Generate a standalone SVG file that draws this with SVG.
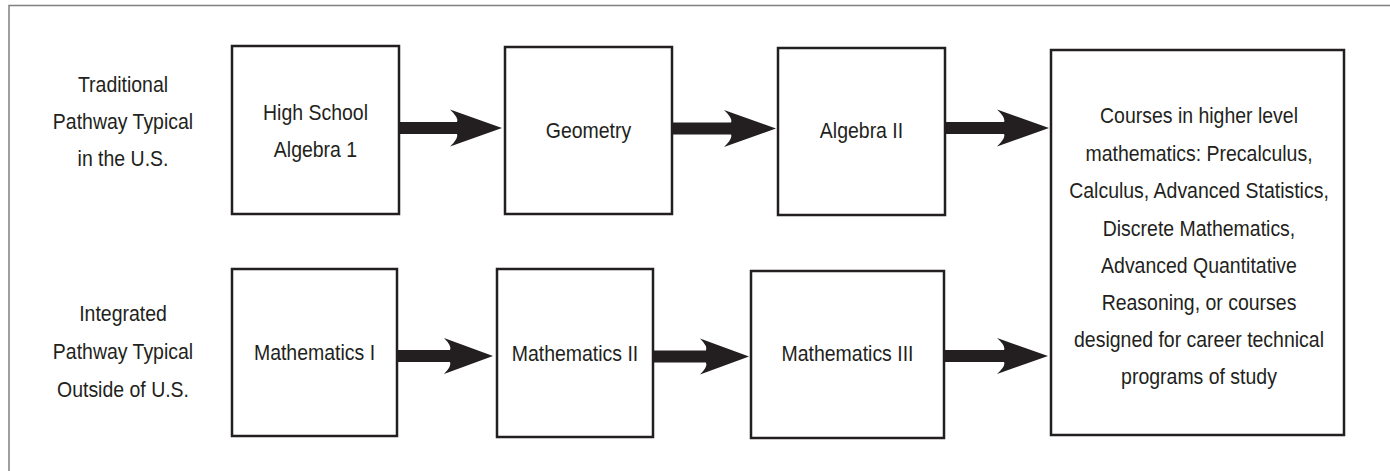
<svg xmlns="http://www.w3.org/2000/svg" width="1390" height="471" viewBox="0 0 1390 471">
<style>
.frame{fill:none;stroke:#808080;stroke-width:1.5}
.box{fill:#fff;stroke:#231f20;stroke-width:2.5}
.t{font-family:"Liberation Sans",Arial,sans-serif;font-size:22px;fill:#231f20;text-anchor:middle}
.arr{fill:#231f20}
</style>
<rect width="1390" height="471" fill="#fff"/>
<path class="frame" d="M9,480 L9,5.5 L1400,5.5"/>
<g id="label-traditional">
<text class="t" transform="matrix(0.885 0 0 1 123 92)">Traditional</text>
<text class="t" transform="matrix(0.885 0 0 1 123 129)">Pathway Typical</text>
<text class="t" transform="matrix(0.885 0 0 1 123 166)">in the U.S.</text>
</g>
<g id="label-integrated">
<text class="t" transform="matrix(0.885 0 0 1 123 321)">Integrated</text>
<text class="t" transform="matrix(0.885 0 0 1 123 359)">Pathway Typical</text>
<text class="t" transform="matrix(0.885 0 0 1 123 397)">Outside of U.S.</text>
</g>
<g id="connectors">
<path class="arr" d="M502,128 L450,109.5 Q459,118 457,122 L399,122 L399,134 L457,134 Q459,138 450,146.5 Z"/>
<path class="arr" d="M776,128.5 L724,110 Q733,118.5 731,122.5 L672,122.5 L672,134.5 L731,134.5 Q733,138.5 724,147 Z"/>
<path class="arr" d="M1049,128 L997,109.5 Q1006,118 1004,122 L945,122 L945,134 L1004,134 Q1006,138 997,146.5 Z"/>
<path class="arr" d="M493,356 L444,338 Q452,346 450,350 L397,350 L397,362 L450,362 Q452,366 444,374 Z"/>
<path class="arr" d="M749,356.5 L700,338.5 Q708,346.5 706,350.5 L653,350.5 L653,362.5 L706,362.5 Q708,366.5 700,374.5 Z"/>
<path class="arr" d="M1048,356 L997,338 Q1006,346 1004,350 L944,350 L944,362 L1004,362 Q1006,366 997,374 Z"/>
</g>
<g id="node-algebra1">
<rect class="box" x="232" y="46" width="167" height="168"/>
<text class="t" transform="matrix(0.885 0 0 1 315.5 120)">High School</text>
<text class="t" transform="matrix(0.885 0 0 1 315.5 157)">Algebra 1</text>
</g>
<g id="node-geometry">
<rect class="box" x="505" y="47" width="167" height="167"/>
<text class="t" transform="matrix(0.885 0 0 1 588.5 138)">Geometry</text>
</g>
<g id="node-algebra2">
<rect class="box" x="778" y="48" width="167" height="167"/>
<text class="t" transform="matrix(0.885 0 0 1 861.5 138)">Algebra II</text>
</g>
<g id="node-math1">
<rect class="box" x="232" y="269" width="165" height="167"/>
<text class="t" transform="matrix(0.885 0 0 1 314.5 360)">Mathematics I</text>
</g>
<g id="node-math2">
<rect class="box" x="497" y="269" width="156" height="168"/>
<text class="t" transform="matrix(0.885 0 0 1 575 361)">Mathematics II</text>
</g>
<g id="node-math3">
<rect class="box" x="751" y="271" width="193" height="167"/>
<text class="t" transform="matrix(0.885 0 0 1 847.5 361)">Mathematics III</text>
</g>
<g id="node-higher">
<rect class="box" x="1051" y="50" width="293" height="385"/>
<text class="t" transform="matrix(0.885 0 0 1 1199 123)">Courses in higher level</text>
<text class="t" transform="matrix(0.885 0 0 1 1199 161)">mathematics: Precalculus,</text>
<text class="t" transform="matrix(0.885 0 0 1 1199 198)">Calculus, Advanced Statistics,</text>
<text class="t" transform="matrix(0.885 0 0 1 1199 236)">Discrete Mathematics,</text>
<text class="t" transform="matrix(0.885 0 0 1 1199 273)">Advanced Quantitative</text>
<text class="t" transform="matrix(0.885 0 0 1 1199 310)">Reasoning, or courses</text>
<text class="t" transform="matrix(0.885 0 0 1 1199 347)">designed for career technical</text>
<text class="t" transform="matrix(0.885 0 0 1 1199 384)">programs of study</text>
</g>
</svg>
